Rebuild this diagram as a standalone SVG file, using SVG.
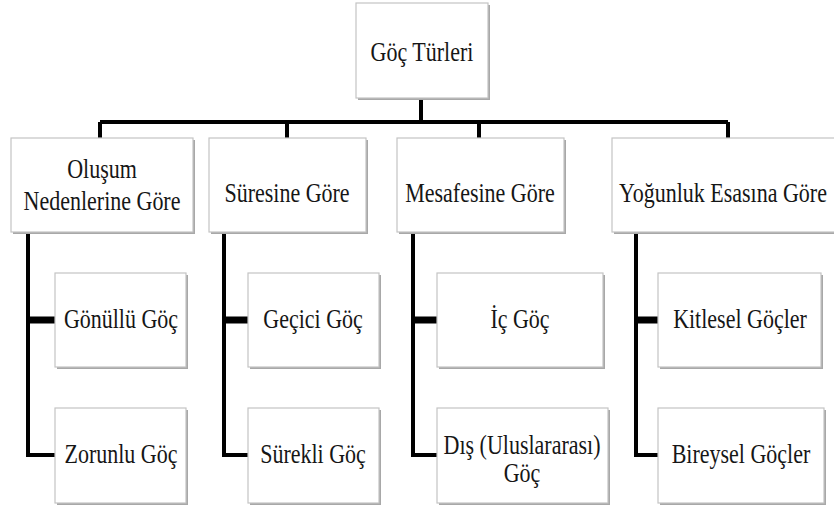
<svg xmlns="http://www.w3.org/2000/svg" width="834" height="507" viewBox="0 0 834 507">
<style>
.box{fill:#ffffff;stroke:#c4c4c4;stroke-width:1.2}
.sh{fill:#a8a8a8}
.t{font-family:"Liberation Serif","Times New Roman",serif;font-size:22px;fill:#161616;text-anchor:middle}
.c{stroke:#000;stroke-width:4;fill:none}
</style>
<rect width="834" height="507" fill="#ffffff"/>
<g id="connectors">
<path class="c" d="M421,98 V122 M100,122 H728 M100,122 V138 M287,122 V138 M479,122 V138 M728,122 V138"/>
<path class="c" d="M28,232 V455 H55 M224,232 V455 H248 M413,232 V455 H437 M636,232 V455 H658"/>
<path stroke="#000" stroke-width="7" d="M28,320 H55 M224,320 H248 M413,320 H437 M636,320 H658"/>
</g>
<g id="root">
<rect class="sh" x="358" y="5" width="132" height="95"/>
<rect class="box" x="356" y="3" width="132" height="95"/>
<text class="t" transform="translate(422,61) scale(1,1.25)">Göç Türleri</text>
</g>
<g id="n1">
<rect class="sh" x="13" y="140" width="182" height="94"/>
<rect class="box" x="11" y="138" width="182" height="94"/>
<text class="t" transform="translate(102,178) scale(1,1.25)">Oluşum</text>
<text class="t" transform="translate(102,210) scale(1,1.25)">Nedenlerine Göre</text>
</g>
<g id="n2">
<rect class="sh" x="211" y="140" width="157" height="94"/>
<rect class="box" x="209" y="138" width="157" height="94"/>
<text class="t" transform="translate(287,202) scale(1,1.25)">Süresine Göre</text>
</g>
<g id="n3">
<rect class="sh" x="399" y="140" width="167" height="94"/>
<rect class="box" x="397" y="138" width="167" height="94"/>
<text class="t" transform="translate(480,202) scale(1,1.25)">Mesafesine Göre</text>
</g>
<g id="n4">
<rect class="sh" x="614" y="140" width="228" height="94"/>
<rect class="box" x="612" y="138" width="228" height="94"/>
<text class="t" transform="translate(723,202) scale(1,1.25)">Yoğunluk Esasına Göre</text>
</g>
<g id="n1a">
<rect class="sh" x="57" y="275" width="131" height="94"/>
<rect class="box" x="55" y="273" width="131" height="94"/>
<text class="t" transform="translate(121,328) scale(1,1.25)">Gönüllü Göç</text>
</g>
<g id="n1b">
<rect class="sh" x="57" y="410" width="131" height="95"/>
<rect class="box" x="55" y="408" width="131" height="95"/>
<text class="t" transform="translate(121,463) scale(1,1.25)">Zorunlu Göç</text>
</g>
<g id="n2a">
<rect class="sh" x="250" y="275" width="131" height="94"/>
<rect class="box" x="248" y="273" width="131" height="94"/>
<text class="t" transform="translate(313,328) scale(1,1.25)">Geçici Göç</text>
</g>
<g id="n2b">
<rect class="sh" x="250" y="410" width="131" height="95"/>
<rect class="box" x="248" y="408" width="131" height="95"/>
<text class="t" transform="translate(313,463) scale(1,1.25)">Sürekli Göç</text>
</g>
<g id="n3a">
<rect class="sh" x="439" y="275" width="166" height="94"/>
<rect class="box" x="437" y="273" width="166" height="94"/>
<text class="t" transform="translate(520,328) scale(1,1.25)">İç Göç</text>
</g>
<g id="n3b">
<rect class="sh" x="439" y="410" width="171" height="95"/>
<rect class="box" x="437" y="408" width="171" height="95"/>
<text class="t" transform="translate(522,454) scale(1,1.25)">Dış (Uluslararası)</text>
<text class="t" transform="translate(522,482) scale(1,1.25)">Göç</text>
</g>
<g id="n4a">
<rect class="sh" x="660" y="275" width="163" height="94"/>
<rect class="box" x="658" y="273" width="163" height="94"/>
<text class="t" transform="translate(740,328) scale(1,1.25)">Kitlesel Göçler</text>
</g>
<g id="n4b">
<rect class="sh" x="660" y="410" width="166" height="95"/>
<rect class="box" x="658" y="408" width="166" height="95"/>
<text class="t" transform="translate(741,463) scale(1,1.25)">Bireysel Göçler</text>
</g>
</svg>
